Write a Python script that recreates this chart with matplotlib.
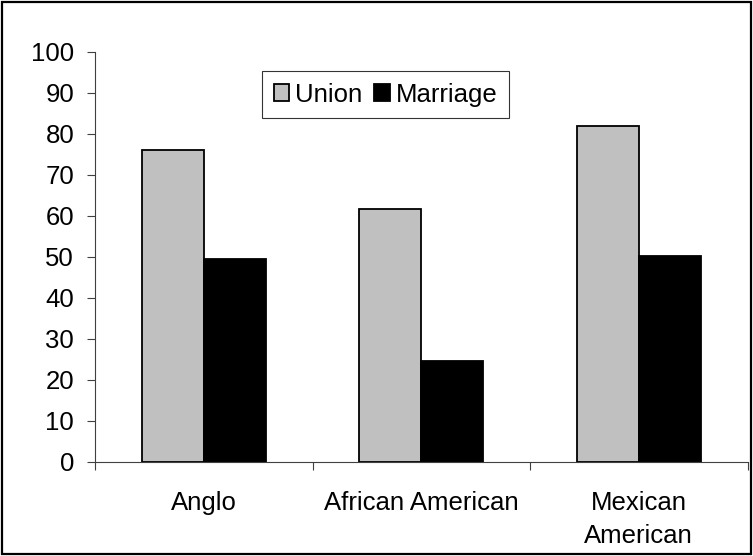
import matplotlib
matplotlib.use("Agg")
import matplotlib.pyplot as plt
from matplotlib.patches import Rectangle
import numpy as np

categories = ["Anglo", "African American", "Mexican\nAmerican"]
union = [76.0, 61.6, 81.9]
marriage = [49.4, 24.6, 50.2]
series_names = ["Union", "Marriage"]
yticks = [0, 10, 20, 30, 40, 50, 60, 70, 80, 90, 100]

plt.rcParams['font.family'] = ['Liberation Sans', 'DejaVu Sans']
FS = 18.5

fig = plt.figure(figsize=(7.53, 5.56), dpi=100)
ax = fig.add_axes([95/753, (556-461.7)/556, (747.5-95)/753, 410/556])

x = np.arange(len(categories))
w = 1/3.5
ax.bar(x - w/2, union, width=w, color="#C0C0C0", edgecolor="black", linewidth=1.3, label=series_names[0])
ax.bar(x + w/2, marriage, width=w, color="black", edgecolor="black", linewidth=1.3, label=series_names[1])

ax.set_xlim(-0.5, 2.5)
ax.set_ylim(0, 100)
ax.set_yticks(yticks)
ax.set_yticklabels([str(t) for t in yticks], fontsize=FS)
ax.set_xticks(x)
ax.set_xticklabels(categories, fontsize=FS, linespacing=1.5)
ax.set_xticks([-0.5, 0.5, 1.5, 2.5], minor=True)
ax.tick_params(axis='x', which='major', length=0, pad=21)
ax.tick_params(axis='x', which='minor', length=6, width=0.8, color="#404040", direction='out')
ax.tick_params(axis='y', length=6, width=0.8, color="#404040", pad=9)

for s in ['top', 'right']:
    ax.spines[s].set_visible(False)
for s in ['left', 'bottom']:
    ax.spines[s].set_color("#404040")
    ax.spines[s].set_linewidth(0.8)

leg = ax.legend(loc='upper left', bbox_to_anchor=((262-95)/652.5, (461.7-71)/410),
                borderaxespad=0, fontsize=FS, frameon=True, fancybox=False,
                ncol=2, handlelength=0.6, handleheight=0.6, handletextpad=0.25,
                columnspacing=0.45, borderpad=0.45)
leg.get_frame().set_edgecolor("black")
leg.get_frame().set_linewidth(0.8)

fig.patches.append(Rectangle((2/753, 2/556), 749/753, 552/556, transform=fig.transFigure,
                             fill=False, edgecolor="black", linewidth=1.6))

fig.savefig("out.png", dpi=100)
